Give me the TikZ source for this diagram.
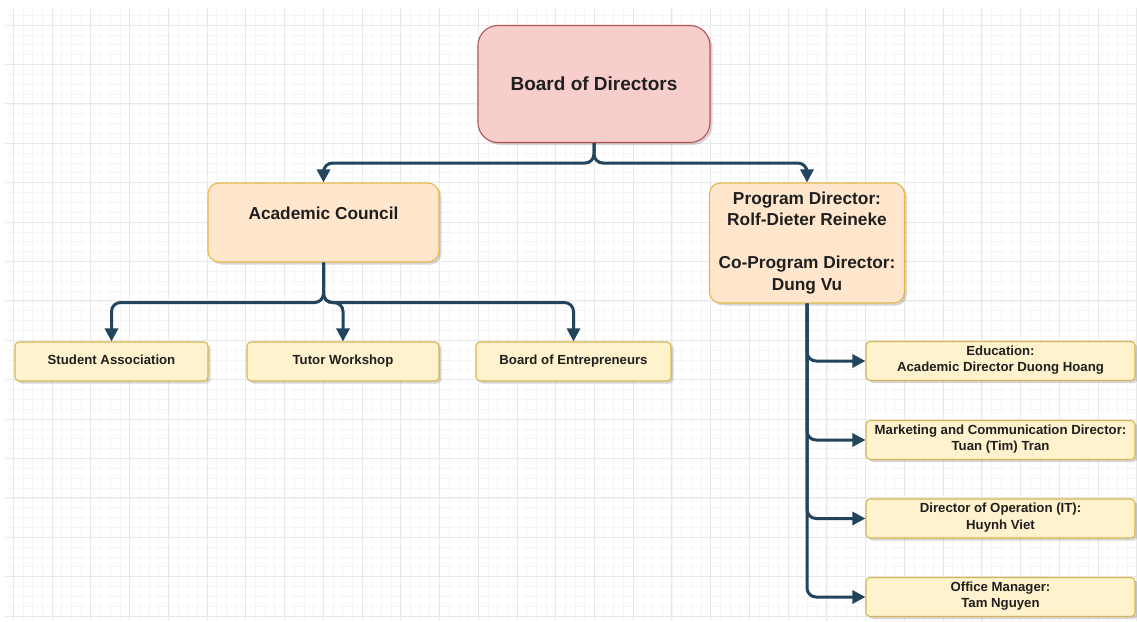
\documentclass[tikz,border=0pt]{standalone}
\usepackage{fontspec}
\setmainfont{Liberation Sans}
\usetikzlibrary{arrows.meta,shadows}
\definecolor{linkblue}{HTML}{23445D}
\definecolor{redfill}{HTML}{F8CECC}
\definecolor{reddraw}{HTML}{B85450}
\definecolor{orangefill}{HTML}{FFE6CC}
\definecolor{orangedraw}{HTML}{D79B00}
\definecolor{yellowfill}{HTML}{FFF2CC}
\definecolor{yellowdraw}{HTML}{D6B656}
\begin{document}
\begin{tikzpicture}[x=1pt,y=-1pt,
    orgbox/.style={draw,line width=1.1pt,inner sep=0pt,align=center,text=black!88,
        font=\bfseries,drop shadow={shadow xshift=2.5pt,shadow yshift=-2.5pt,opacity=0.22,fill=black!70}},
    topbox/.style={orgbox,fill=redfill,draw=reddraw,rounded corners=20pt,
        minimum width=232pt,minimum height=117pt,font=\bfseries\fontsize{19}{23}\selectfont},
    midbox/.style={orgbox,fill=orangefill,draw=orangedraw!70,rounded corners=11pt},
    unitbox/.style={orgbox,fill=yellowfill,draw=yellowdraw,rounded corners=4pt,
        minimum height=39pt,font=\bfseries\fontsize{13.2}{16.5}\selectfont,
        execute at begin node=\strut,execute at end node=\strut},
    link/.style={draw=linkblue,line width=3pt,rounded corners=9pt,
        -{Triangle[length=13pt,width=13pt]}}]
    \useasboundingbox (0,0) rectangle (1137,621);
    \fill[white] (0,0) rectangle (1137,621);
    % grid
    \foreach \i in {0,...,116}{
        \draw[black!4,line width=0.6pt] (13.3+9.685*\i,8) -- (13.3+9.685*\i,621);
    }
    \foreach \j in {-1,...,60}{
        \draw[black!4,line width=0.6pt] (5,25+9.85*\j) -- (1137,25+9.85*\j);
    }
    \foreach \i in {0,...,29}{
        \draw[black!9,line width=0.8pt] (13.3+38.74*\i,8) -- (13.3+38.74*\i,621);
    }
    \foreach \j in {0,...,15}{
        \draw[black!9,line width=0.8pt] (5,25+39.4*\j) -- (1137,25+39.4*\j);
    }
    % boxes
    \node[topbox] (board) at (594,84) {Board of Directors};
    \node[midbox,minimum width=231pt,minimum height=79pt,
        label={[font=\bfseries\fontsize{17.3}{21}\selectfont,text=black!88,yshift=9pt]center:Academic Council}]
        (council) at (323.5,222.5) {};
    \node[midbox,minimum width=195pt,minimum height=120pt,
        font=\bfseries\fontsize{17.3}{21.5}\selectfont] (program) at (807,243)
        {Program Director:\\Rolf-Dieter Reineke\\[21.5pt]Co-Program Director:\\Dung Vu};
    \node[unitbox,minimum width=193pt] (students) at (111.5,361.5) {Student Association};
    \node[unitbox,minimum width=192pt] (tutors) at (343,361.5) {Tutor Workshop};
    \node[unitbox,minimum width=195pt] (founders) at (573.5,361.5) {Board of Entrepreneurs};
    \node[unitbox,minimum width=269pt] (education) at (1000.5,361) {Education:\\Academic Director Duong Hoang};
    \node[unitbox,minimum width=269pt] (marketing) at (1000.5,440) {Marketing and Communication Director:\\Tuan (Tim) Tran};
    \node[unitbox,minimum width=269pt] (operation) at (1000.5,518.5) {Director of Operation (IT):\\Huynh Viet};
    \node[unitbox,minimum width=269pt] (office) at (1000.5,597) {Office Manager:\\Tam Nguyen};
    % connectors
    \draw[link] (board.south) -- ++(0,20) -| (council.north);
    \draw[link] (board.south) -- ++(0,20) -| (program.north);
    \foreach \unit in {students,tutors,founders}{
        \draw[link] (council.south) -- ++(0,40) -| (\unit.north);
    }
    \foreach \unit in {education,marketing,operation,office}{
        \draw[link] (program.south) |- (\unit.west);
    }
\end{tikzpicture}
\end{document}
